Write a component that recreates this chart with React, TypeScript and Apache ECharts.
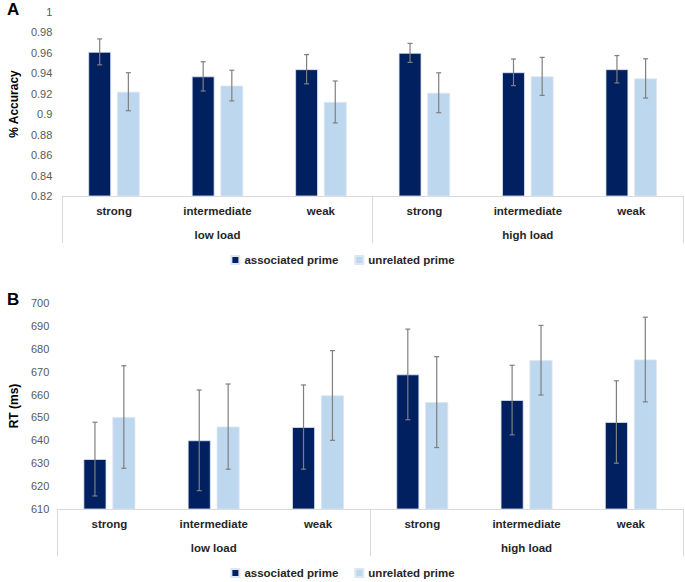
import React, { useEffect, useRef } from "react";
import * as echarts from "echarts";

const categories = ["strong", "intermediate", "weak", "strong", "intermediate", "weak"];
const loads = ["low load", "high load"];
const seriesNames = ["associated prime", "unrelated prime"];

const accAssoc = [0.961, 0.937, 0.944, 0.96, 0.941, 0.944];
const accAssocErr = [0.0127, 0.0143, 0.0143, 0.0093, 0.013, 0.0134];
const accUnrel = [0.922, 0.928, 0.912, 0.921, 0.937, 0.935];
const accUnrelErr = [0.0186, 0.015, 0.0205, 0.0195, 0.0186, 0.0192];

const rtAssoc = [631.8, 640, 645.8, 668.8, 657.6, 648];
const rtAssocErr = [16.1, 22, 18.4, 19.8, 15.2, 18];
const rtUnrel = [650.2, 646, 659.6, 656.7, 675, 675.3];
const rtUnrelErr = [22.4, 18.6, 19.6, 19.85, 15.2, 18.5];

const DARK = "#002060";
const LIGHT = "#bdd7ee";
const FONT = "Liberation Sans, Arial, sans-serif";
const BAR_W = 0.22;
const BAR_GAP = 0.26;

function errSeries(vals: number[], errs: number[], side: number, xi: number, yi: number) {
  return {
    type: "custom",
    xAxisIndex: xi,
    yAxisIndex: yi,
    z: 10,
    silent: true,
    data: vals.map((v, i) => [i, v, errs[i]]),
    encode: { x: 0, y: 1 },
    renderItem: (params: any, api: any) => {
      const idx = api.value(0);
      const v = api.value(1);
      const e = api.value(2);
      const band = api.size([1, 0])[0];
      const bw = band * BAR_W;
      const off = side * (bw + bw * BAR_GAP) / 2;
      const top = api.coord([idx, v + e]);
      const bot = api.coord([idx, v - e]);
      const x = top[0] + off;
      const cap = 2.5;
      const style = { stroke: "#7f7f7f", lineWidth: 1.2 };
      return {
        type: "group",
        children: [
          { type: "line", shape: { x1: x, y1: top[1], x2: x, y2: bot[1] }, style },
          { type: "line", shape: { x1: x - cap, y1: top[1], x2: x + cap, y2: top[1] }, style },
          { type: "line", shape: { x1: x - cap, y1: bot[1], x2: x + cap, y2: bot[1] }, style },
        ],
      };
    },
  };
}

function barSeries(name: string, vals: number[], color: string, xi: number, yi: number) {
  return {
    type: "bar",
    name,
    xAxisIndex: xi,
    yAxisIndex: yi,
    data: vals,
    barWidth: BAR_W * 100 + "%",
    barGap: BAR_GAP * 100 + "%",
    itemStyle: { color, borderColor: "#dde6f3", borderWidth: 0.8 },
  };
}

const labelStyle = { color: "#262626", fontSize: 11.5, fontWeight: "bold", fontFamily: FONT };

function innerAxis(grid: number) {
  return {
    type: "category",
    gridIndex: grid,
    position: "bottom",
    data: categories,
    axisLine: { show: true, lineStyle: { color: "#d9d9d9", width: 1 } },
    axisTick: { show: false },
    axisLabel: { interval: 0, ...labelStyle, margin: 9 },
  };
}

function outerAxis(grid: number) {
  return {
    type: "category",
    gridIndex: grid,
    position: "bottom",
    data: loads,
    axisLine: { show: false },
    axisTick: { show: true, length: 47, alignWithLabel: false, interval: 0, lineStyle: { color: "#d9d9d9", width: 1 } },
    axisLabel: { interval: 0, ...labelStyle, margin: 33 },
  };
}

export default function App() {
  const ref = useRef<HTMLDivElement>(null);
  useEffect(() => {
    document.body.style.margin = "0";
    if (!ref.current) return;
    const chart = echarts.init(ref.current, null, { renderer: "svg" });
    const legendCommon = {
      data: seriesNames,
      icon: "rect",
      itemWidth: 8,
      itemHeight: 8,
      itemGap: 16,
      textStyle: { color: "#262626", fontSize: 11.5, fontWeight: "bold", fontFamily: FONT },
      left: "center",
    };
    chart.setOption({
      animation: false,
      grid: [
        { left: 56, right: 2, top: 12, height: 184 },
        { left: 52, right: 2, top: 303, height: 206 },
      ],
      legend: [
        { ...legendCommon, top: 249 },
        { ...legendCommon, top: 562 },
      ],
      xAxis: [innerAxis(0), outerAxis(0), innerAxis(1), outerAxis(1)],
      yAxis: [
        {
          type: "value",
          gridIndex: 0,
          min: 0.82,
          max: 1,
          interval: 0.02,
          splitLine: { show: false },
          axisLine: { show: false },
          axisTick: { show: false },
          axisLabel: {
            color: "#595959",
            fontSize: 11,
            fontFamily: FONT,
            margin: 10,
            formatter: (v: number) => String(parseFloat(v.toFixed(2))),
          },
          name: "% Accuracy",
          nameLocation: "middle",
          nameGap: 40,
          nameTextStyle: { fontWeight: "bold", fontSize: 12, color: "#000", fontFamily: FONT },
        },
        {
          type: "value",
          gridIndex: 1,
          min: 610,
          max: 700,
          interval: 10,
          splitLine: { show: false },
          axisLine: { show: false },
          axisTick: { show: false },
          axisLabel: { color: "#595959", fontSize: 11, fontFamily: FONT, margin: 8 },
          name: "RT (ms)",
          nameLocation: "middle",
          nameGap: 37,
          nameTextStyle: { fontWeight: "bold", fontSize: 12, color: "#000", fontFamily: FONT },
        },
      ],
      graphic: [
        { type: "text", left: 7, top: 1, style: { text: "A", font: "bold 17px " + FONT, fill: "#000" } },
        { type: "text", left: 7, top: 291, style: { text: "B", font: "bold 17px " + FONT, fill: "#000" } },
      ],
      series: [
        barSeries(seriesNames[0], accAssoc, DARK, 0, 0),
        barSeries(seriesNames[1], accUnrel, LIGHT, 0, 0),
        errSeries(accAssoc, accAssocErr, -1, 0, 0),
        errSeries(accUnrel, accUnrelErr, 1, 0, 0),
        barSeries(seriesNames[0], rtAssoc, DARK, 2, 1),
        barSeries(seriesNames[1], rtUnrel, LIGHT, 2, 1),
        errSeries(rtAssoc, rtAssocErr, -1, 2, 1),
        errSeries(rtUnrel, rtUnrelErr, 1, 2, 1),
      ],
    });
    return () => chart.dispose();
  }, []);
  return <div ref={ref} style={{ width: 685, height: 582 }} />;
}
